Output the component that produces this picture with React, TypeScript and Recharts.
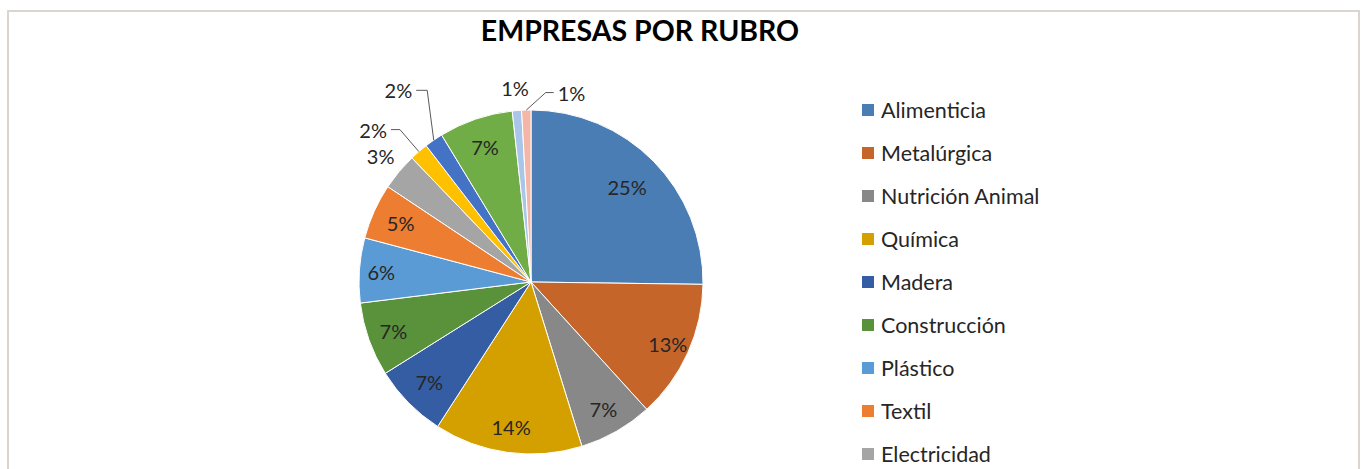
import { PieChart, Pie, Cell, Legend } from "recharts";

const rubros = [
  "Alimenticia",
  "Metalúrgica",
  "Nutrición Animal",
  "Química",
  "Madera",
  "Construcción",
  "Plástico",
  "Textil",
  "Electricidad",
  "Papel",
  "Caucho",
  "Servicios",
  "Vidrio",
  "Otros",
];

// cantidad de empresas por rubro
const empresas = [29, 15, 8, 16, 8, 8, 7, 6, 4, 2, 2, 8, 1, 1];

const colores = [
  "#4A7DB4", "#C5652A", "#888888", "#D4A000", "#345DA3", "#5A913B", "#5B9BD5",
  "#ED7D31", "#A5A5A5", "#FFC000", "#4472C4", "#70AD47", "#A9C5EA", "#F4B6A6",
];

const data = rubros.map((name, i) => ({ name, value: empresas[i] }));

// where each percentage label sits (radius in px from center)
type LabelPos =
  | { kind: "radial"; r: number }
  | { kind: "leader"; elbowR: number; off: number; tail: number };

const labelPos: LabelPos[] = [
  { kind: "radial", r: 135 },
  { kind: "radial", r: 150 },
  { kind: "radial", r: 146 },
  { kind: "radial", r: 146 },
  { kind: "radial", r: 143 },
  { kind: "radial", r: 146 },
  { kind: "radial", r: 150 },
  { kind: "radial", r: 143 },
  { kind: "radial", r: 196 },
  { kind: "leader", elbowR: 201, off: 0, tail: -9 },
  { kind: "leader", elbowR: 218, off: -6, tail: -11 },
  { kind: "radial", r: 143 },
  { kind: "radial", r: 195 },
  { kind: "leader", elbowR: 190, off: -6, tail: 8 },
];

const FONT = "Lato, 'Open Sans', sans-serif";
const RAD = Math.PI / 180;
const polar = (cx: number, cy: number, r: number, a: number) => ({
  x: cx + r * Math.cos(-a * RAD),
  y: cy + r * Math.sin(-a * RAD),
});

const renderLabel = (props: any) => {
  const { cx, cy, midAngle, outerRadius, percent, index } = props;
  const txt = `${Math.round(percent * 100)}%`;
  const pos = labelPos[index];
  if (!pos) return null;
  if (pos.kind === "radial") {
    const p = polar(cx, cy, pos.r, midAngle);
    return (
      <text
        x={p.x}
        y={p.y}
        textAnchor="middle"
        dominantBaseline="central"
        fontSize={20}
        fontFamily={FONT}
        fill="#262626"
      >
        {txt}
      </text>
    );
  }
  const s = polar(cx, cy, outerRadius, midAngle);
  const e = polar(cx, cy, pos.elbowR, midAngle + pos.off);
  const tx = e.x + pos.tail;
  return (
    <g>
      <polyline
        points={`${s.x},${s.y} ${e.x},${e.y} ${tx},${e.y}`}
        fill="none"
        stroke="#595959"
        strokeWidth={1}
      />
      <text
        x={pos.tail < 0 ? tx - 4 : tx + 4}
        y={e.y}
        textAnchor={pos.tail < 0 ? "end" : "start"}
        dominantBaseline="central"
        fontSize={20}
        fontFamily={FONT}
        fill="#262626"
      >
        {txt}
      </text>
    </g>
  );
};

const renderLegend = ({ payload }: any) => {
  const items = [...(payload || [])].sort(
    (a: any, b: any) => rubros.indexOf(a.value) - rubros.indexOf(b.value)
  );
  return (
    <div>
      {items.map((p: any) => (
        <div
          key={p.value}
          style={{ display: "flex", alignItems: "center", height: 43, fontFamily: FONT, fontSize: 21.5, color: "#262626" }}
        >
          <span style={{ width: 12, height: 12, background: p.color, marginRight: 7, display: "inline-block" }} />
          {p.value}
        </div>
      ))}
    </div>
  );
};

export default function App() {
  return (
    <div style={{ position: "absolute", left: 0, top: 0, width: 1361, height: 469, overflow: "hidden", background: "#fff" }}>
      <div
        style={{
          position: "absolute",
          left: 7,
          top: 10,
          width: 1349,
          height: 500,
          border: "2px solid #DAD6CF",
        }}
      />
      <div
        style={{
          position: "absolute",
          left: 0,
          top: 13,
          width: 1280,
          textAlign: "center",
          fontFamily: FONT,
          fontWeight: 700,
          fontSize: 28.5,
          color: "#000",
        }}
      >
        EMPRESAS POR RUBRO
      </div>
      <div style={{ position: "absolute", left: 0, top: 0 }}>
        <PieChart width={1361} height={680} margin={{ top: 0, right: 0, bottom: 0, left: 0 }}>
          <Pie
            data={data}
            dataKey="value"
            nameKey="name"
            cx={531}
            cy={282}
            outerRadius={172}
            startAngle={90}
            endAngle={-270}
            stroke="#fff"
            strokeWidth={1}
            label={renderLabel}
            labelLine={false}
            isAnimationActive={false}
          >
            {data.map((d, i) => (
              <Cell key={d.name} fill={colores[i]} />
            ))}
          </Pie>
          <Legend
            layout="vertical"
            content={renderLegend}
            wrapperStyle={{ position: "absolute", left: 862, top: 88, width: 300 }}
          />
        </PieChart>
      </div>
    </div>
  );
}
